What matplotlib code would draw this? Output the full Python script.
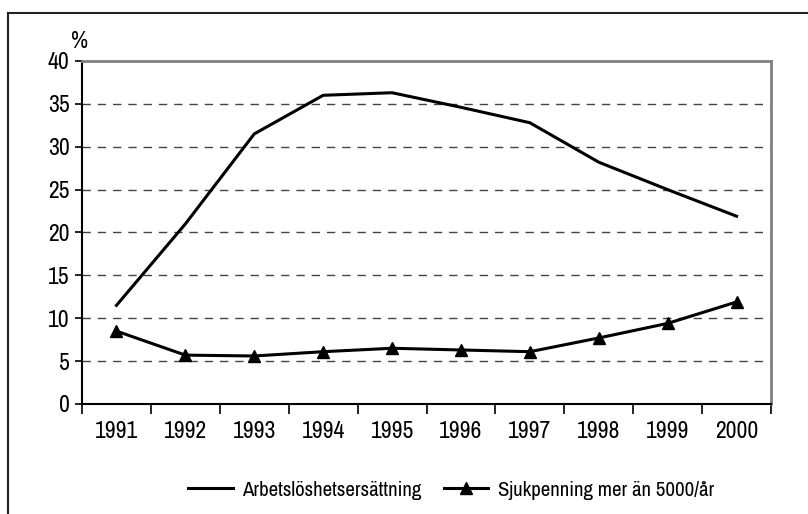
import matplotlib
matplotlib.use("Agg")
import matplotlib.pyplot as plt
from matplotlib import font_manager
from matplotlib.font_manager import FontProperties
from matplotlib.lines import Line2D
import numpy as np

years = ["1991", "1992", "1993", "1994", "1995", "1996", "1997", "1998", "1999", "2000"]
arbetsloshet = [11.5, 21.0, 31.5, 36.0, 36.3, 34.6, 32.8, 28.2, 25.0, 21.9]
sjukpenning = [8.5, 5.7, 5.6, 6.1, 6.5, 6.3, 6.1, 7.7, 9.4, 11.9]
yticks = [0, 5, 10, 15, 20, 25, 30, 35, 40]


def score(f):
    tag = (f.name + " " + str(f.stretch) + " " + f.fname).lower()
    if f.style != "normal" or f.weight not in (400, "normal", "regular"):
        return -1
    if "bold" in f.fname.lower() or "italic" in f.fname.lower() or "oblique" in f.fname.lower():
        return -1
    if "mono" in tag or "serif" in tag.replace("sans", ""):
        return -1
    s = -1
    if "narrow" in tag:
        s = 10
    elif "condensed" in tag or "cond" in f.fname.lower():
        s = 5
        if "semi" in tag or "extra" in tag or "ultra" in tag:
            s = 3
    return s


best = max(font_manager.fontManager.ttflist, key=score)
if score(best) > 0:
    fname = best.fname
    fs, fs_leg = 17, 15
else:
    fname = font_manager.findfont("Liberation Sans")
    fs, fs_leg = 13, 12
prop = FontProperties(fname=fname, size=fs)
prop_leg = FontProperties(fname=fname, size=fs_leg)

fig = plt.figure(figsize=(8.08, 5.14), dpi=100)
W, H = 808, 514
ax = fig.add_axes([82 / W, 1 - 404 / H, (771 - 82) / W, (404 - 61) / H])

x = np.arange(len(years))
ax.plot(x, arbetsloshet, color="black", lw=2.2, label="Arbetslöshetsersättning")
ax.plot(x, sjukpenning, color="black", lw=2.2, marker="^", markersize=9,
        label="Sjukpenning mer än 5000/år")

ax.set_xlim(-0.5, len(years) - 0.5)
ax.set_ylim(0, 40)
ax.set_yticks(yticks)
ax.set_xticks(x)
ax.set_xticklabels(years)
ax.set_xticks(np.arange(-0.5, len(years)), minor=True)
ax.tick_params(axis="x", which="major", length=0, pad=12)
ax.tick_params(axis="x", which="minor", length=7, width=1.2, direction="out")
ax.tick_params(axis="y", length=5, width=1.2, direction="out", pad=4)
for lab in ax.get_xticklabels() + ax.get_yticklabels():
    lab.set_fontproperties(prop)

for v in yticks[1:-1]:
    ax.axhline(v, color="#444444", lw=1.0, ls=(0, (6, 5)), zorder=0)

ax.spines["left"].set_color("black")
ax.spines["bottom"].set_color("black")
ax.spines["left"].set_linewidth(1.5)
ax.spines["bottom"].set_linewidth(1.5)
ax.spines["top"].set_color("#808080")
ax.spines["right"].set_color("#808080")
ax.spines["top"].set_linewidth(2)
ax.spines["right"].set_linewidth(2)

fig.text(80 / W, 1 - 42 / H, "%", ha="center", va="center", fontproperties=prop)

handles = [Line2D([0], [0], color="black", lw=2.2),
           Line2D([0], [0], color="black", lw=2.2, marker="^", markersize=8)]
fig.legend(handles, ["Arbetslöshetsersättning", "Sjukpenning mer än 5000/år"],
           loc="center", bbox_to_anchor=(451 / W, 1 - 490 / H), ncol=2,
           frameon=False, handlelength=2.15, handletextpad=0.45, columnspacing=1.05,
           prop=prop_leg)

# outer frame (cut off at right and bottom)
fig.add_artist(Line2D([8 / W, 8 / W], [0, 1 - 13 / H], color="#222222", lw=1.5,
                      transform=fig.transFigure))
fig.add_artist(Line2D([8 / W, 1], [1 - 13 / H, 1 - 13 / H], color="#222222", lw=1.5,
                      transform=fig.transFigure))

fig.savefig("out.png", dpi=100)
